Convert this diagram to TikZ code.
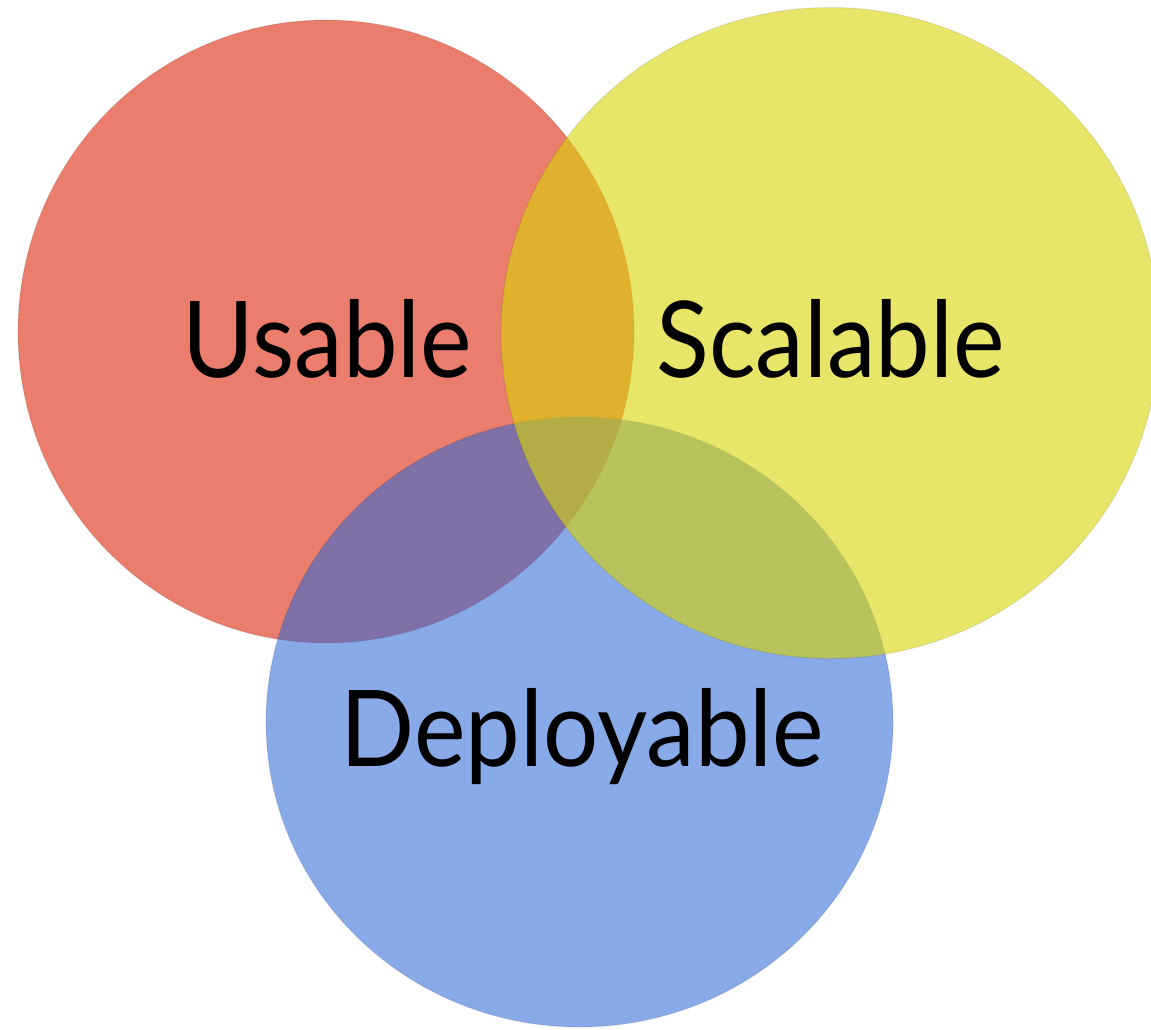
\documentclass[tikz,border=0pt]{standalone}
\usepackage{fontspec}
\setmainfont{Lato}
\newfontfamily\labelfont[FakeStretch=0.92]{Lato}
\definecolor{setred}{RGB}{234,125,107}
\definecolor{setblue}{RGB}{47,105,214}
\definecolor{setyellow}{RGB}{216,213,4}
\begin{document}
\begin{tikzpicture}[x=1pt,y=-1pt,
  setlabel/.style={font=\labelfont\fontsize{106}{120}\selectfont, text=black, anchor=base, inner sep=0pt},
  rim/.style={draw=black, draw opacity=0.08, line width=1.2pt}]
\useasboundingbox (0,0) rectangle (1151,1029);
% the three sets, yellow lies on top
\fill[setred, rim] (326,331.5) ellipse [x radius=308, y radius=311.5];
\fill[setblue, fill opacity=0.57, rim] (579.5,722) ellipse [x radius=313.5, y radius=305];
\fill[setyellow, fill opacity=0.6, rim] (830,333) ellipse [x radius=329, y radius=325.5];
% labels
\node[setlabel] (usable) at (327.5,377) {Usable};
\node[setlabel] (scalable) at (830.5,377) {Scalable};
\node[setlabel] (deployable) at (582.5,766) {Deployable};
\end{tikzpicture}
\end{document}
